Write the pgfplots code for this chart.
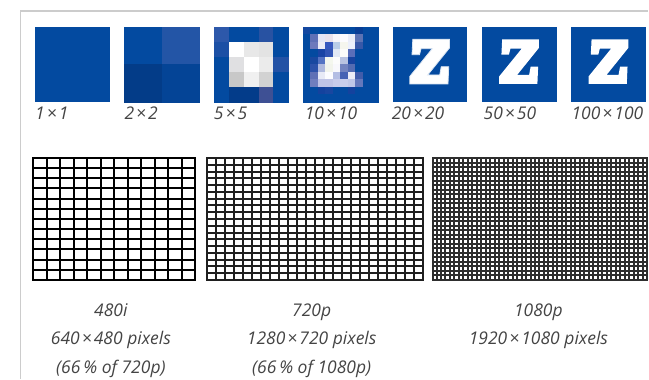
\documentclass[border=0pt]{standalone}
\usepackage{pgfplots}
\pgfplotsset{compat=1.18}
\usepackage{fontspec}
\setmainfont{Open Sans}
\definecolor{zb}{RGB}{3,74,160}
\definecolor{tg}{RGB}{68,68,68}
\definecolor{fr}{RGB}{204,204,204}
\newcommand{\lab}{\itshape\fontsize{17.5}{20}\selectfont}
\newcommand{\x}{\kern2pt×\kern2pt}
\begin{document}
\begin{tikzpicture}
\path (0,0) rectangle (649pt,379pt);
\begin{axis}[at={(0pt,0pt)}, anchor=south west, width=649pt, height=379pt, scale only axis,
  xmin=0, xmax=649, ymin=0, ymax=379, y dir=reverse, hide axis, clip=false]
% frame
\addplot[draw=fr, line width=1.5pt, mark=none] coordinates {(20.5,379) (20.5,11) (649,11)};
% 1x1
\addplot[fill=zb, draw=none, mark=none] coordinates {(35,27) (110,27) (110,102) (35,102)} -- cycle;
% 2x2
\addplot[matrix plot*, mesh/cols=2, mesh/color input=explicit, point meta=explicit symbolic] table[meta=c] {
x y c
143.25 45.75 rgb255=3,74,160
180.75 45.75 rgb255=35,85,166
143.25 83.25 rgb255=3,60,136
180.75 83.25 rgb255=4,68,150
};
% 5x5
\addplot[matrix plot*, mesh/cols=5, mesh/color input=explicit, point meta=explicit symbolic] table[meta=c] {
x y c
221.5 34.5 rgb255=45,88,170
236.5 34.5 rgb255=3,74,160
251.5 34.5 rgb255=3,74,160
266.5 34.5 rgb255=40,82,162
281.5 34.5 rgb255=3,74,160
221.5 49.5 rgb255=28,80,165
236.5 49.5 rgb255=255,255,255
251.5 49.5 rgb255=232,232,232
266.5 49.5 rgb255=227,227,227
281.5 49.5 rgb255=3,74,160
221.5 64.5 rgb255=3,74,160
236.5 64.5 rgb255=224,224,226
251.5 64.5 rgb255=255,255,255
266.5 64.5 rgb255=235,235,235
281.5 64.5 rgb255=35,82,165
221.5 79.5 rgb255=3,74,160
236.5 79.5 rgb255=200,200,200
251.5 79.5 rgb255=240,240,240
266.5 79.5 rgb255=210,210,210
281.5 79.5 rgb255=3,74,160
221.5 94.5 rgb255=3,74,160
236.5 94.5 rgb255=3,60,138
251.5 94.5 rgb255=3,60,138
266.5 94.5 rgb255=62,80,148
281.5 94.5 rgb255=3,74,160
};
% 10x10
\addplot[matrix plot*, mesh/cols=10, mesh/color input=explicit, point meta=explicit symbolic] table[meta=c] {
x y c
307.25 30.75 rgb255=20,72,160
314.75 30.75 rgb255=3,74,160
322.25 30.75 rgb255=3,74,160
329.75 30.75 rgb255=3,74,160
337.25 30.75 rgb255=3,74,160
344.75 30.75 rgb255=3,74,160
352.25 30.75 rgb255=3,74,160
359.75 30.75 rgb255=8,62,150
367.25 30.75 rgb255=3,74,160
374.75 30.75 rgb255=3,74,160
307.25 38.25 rgb255=3,74,160
314.75 38.25 rgb255=95,112,182
322.25 38.25 rgb255=228,230,245
329.75 38.25 rgb255=232,226,236
337.25 38.25 rgb255=246,246,250
344.75 38.25 rgb255=252,252,255
352.25 38.25 rgb255=235,238,248
359.75 38.25 rgb255=92,115,180
367.25 38.25 rgb255=3,74,160
374.75 38.25 rgb255=3,74,160
307.25 45.75 rgb255=3,74,160
314.75 45.75 rgb255=110,122,188
322.25 45.75 rgb255=236,236,246
329.75 45.75 rgb255=55,88,190
337.25 45.75 rgb255=185,205,232
344.75 45.75 rgb255=245,246,238
352.25 45.75 rgb255=236,240,252
359.75 45.75 rgb255=55,88,168
367.25 45.75 rgb255=3,74,160
374.75 45.75 rgb255=3,74,160
307.25 53.25 rgb255=3,74,160
314.75 53.25 rgb255=3,74,160
322.25 53.25 rgb255=25,68,165
329.75 53.25 rgb255=50,85,180
337.25 53.25 rgb255=225,232,244
344.75 53.25 rgb255=252,252,250
352.25 53.25 rgb255=90,110,185
359.75 53.25 rgb255=3,74,160
367.25 53.25 rgb255=3,74,160
374.75 53.25 rgb255=3,74,160
307.25 60.75 rgb255=3,74,160
314.75 60.75 rgb255=25,72,160
322.25 60.75 rgb255=85,115,195
329.75 60.75 rgb255=244,247,238
337.25 60.75 rgb255=252,252,252
344.75 60.75 rgb255=185,195,225
352.25 60.75 rgb255=25,68,160
359.75 60.75 rgb255=3,74,160
367.25 60.75 rgb255=3,74,160
374.75 60.75 rgb255=3,74,160
307.25 68.25 rgb255=3,74,160
314.75 68.25 rgb255=45,82,170
322.25 68.25 rgb255=175,185,222
329.75 68.25 rgb255=242,244,236
337.25 68.25 rgb255=248,248,252
344.75 68.25 rgb255=115,132,192
352.25 68.25 rgb255=85,108,178
359.75 68.25 rgb255=3,74,160
367.25 68.25 rgb255=3,74,160
374.75 68.25 rgb255=3,74,160
307.25 75.75 rgb255=3,74,160
314.75 75.75 rgb255=95,112,182
322.25 75.75 rgb255=232,234,246
329.75 75.75 rgb255=252,252,255
337.25 75.75 rgb255=180,190,228
344.75 75.75 rgb255=70,98,180
352.25 75.75 rgb255=236,236,246
359.75 75.75 rgb255=65,92,170
367.25 75.75 rgb255=3,74,160
374.75 75.75 rgb255=3,74,160
307.25 83.25 rgb255=3,74,160
314.75 83.25 rgb255=112,126,190
322.25 83.25 rgb255=192,196,230
329.75 83.25 rgb255=192,196,230
337.25 83.25 rgb255=200,204,235
344.75 83.25 rgb255=200,206,236
352.25 83.25 rgb255=192,200,232
359.75 83.25 rgb255=100,120,188
367.25 83.25 rgb255=3,74,160
374.75 83.25 rgb255=3,74,160
307.25 90.75 rgb255=3,74,160
314.75 90.75 rgb255=3,74,160
322.25 90.75 rgb255=20,66,158
329.75 90.75 rgb255=25,70,160
337.25 90.75 rgb255=3,74,160
344.75 90.75 rgb255=3,74,160
352.25 90.75 rgb255=20,66,158
359.75 90.75 rgb255=3,74,160
367.25 90.75 rgb255=3,74,160
374.75 90.75 rgb255=3,74,160
307.25 98.25 rgb255=3,74,160
314.75 98.25 rgb255=3,74,160
322.25 98.25 rgb255=3,74,160
329.75 98.25 rgb255=3,74,160
337.25 98.25 rgb255=3,74,160
344.75 98.25 rgb255=3,74,160
352.25 98.25 rgb255=3,74,160
359.75 98.25 rgb255=3,74,160
367.25 98.25 rgb255=3,74,160
374.75 98.25 rgb255=3,74,160
};
% 20x20, 50x50, 100x100 blue squares
\addplot[fill=zb, draw=none, mark=none] coordinates {(393,27) (468,27) (468,102) (393,102)} -- cycle;
\addplot[fill=zb, draw=none, mark=none] coordinates {(482.5,27) (557.5,27) (557.5,102) (482.5,102)} -- cycle;
\addplot[fill=zb, draw=none, mark=none] coordinates {(572,27) (647,27) (647,102) (572,102)} -- cycle;
% Z letters
\addplot[fill=white, draw=white!85!zb, line width=0.8pt, mark=none] coordinates {
(413.25,39.4) (450,39.4) (450,48) (428.25,75) (440.25,75) (441.75,66.75) (449.25,66.75)
(448.5,84) (410.25,84) (410.25,76.5) (432.75,48.75) (421.5,48.75) (420,54.75) (412.5,54.75)} -- cycle;
\addplot[fill=white, draw=none, mark=none] coordinates {
(502.75,39.4) (539.5,39.4) (539.5,48) (517.75,75) (529.75,75) (531.25,66.75) (538.75,66.75)
(538,84) (499.75,84) (499.75,76.5) (522.25,48.75) (511,48.75) (509.5,54.75) (502,54.75)} -- cycle;
\addplot[fill=white, draw=none, mark=none] coordinates {
(592.25,39.4) (629,39.4) (629,48) (607.25,75) (619.25,75) (620.75,66.75) (628.25,66.75)
(627.5,84) (589.25,84) (589.25,76.5) (611.75,48.75) (600.5,48.75) (599,54.75) (591.5,54.75)} -- cycle;
% labels
\node[anchor=base west, inner sep=0pt, font=\lab, text=tg] at (axis cs:35,120) {1\x1};
\node[anchor=base west, inner sep=0pt, font=\lab, text=tg] at (axis cs:124.5,120) {2\x2};
\node[anchor=base west, inner sep=0pt, font=\lab, text=tg] at (axis cs:214,120) {5\x5};
\node[anchor=base west, inner sep=0pt, font=\lab, text=tg] at (axis cs:305,120) {10\x10};
\node[anchor=base west, inner sep=0pt, font=\lab, text=tg] at (axis cs:392,120) {20\x20};
\node[anchor=base west, inner sep=0pt, font=\lab, text=tg] at (axis cs:484,120) {50\x50};
\node[anchor=base west, inner sep=0pt, font=\lab, text=tg] at (axis cs:572,120) {100\x100};
\node[anchor=base, inner sep=0pt, font=\lab, text=tg] at (axis cs:111,317) {480i};
\node[anchor=base, inner sep=0pt, font=\lab, text=tg] at (axis cs:111,345) {640\x480 pixels};
\node[anchor=base, inner sep=0pt, font=\lab, text=tg] at (axis cs:111,374) {(66\,\% of 720p)};
\node[anchor=base, inner sep=0pt, font=\lab, text=tg] at (axis cs:312,317) {720p};
\node[anchor=base, inner sep=0pt, font=\lab, text=tg] at (axis cs:312,345) {1280\x720 pixels};
\node[anchor=base, inner sep=0pt, font=\lab, text=tg] at (axis cs:312,374) {(66\,\% of 1080p)};
\node[anchor=base, inner sep=0pt, font=\lab, text=tg] at (axis cs:539,317) {1080p};
\node[anchor=base, inner sep=0pt, font=\lab, text=tg] at (axis cs:539,345) {1920\x1080 pixels};
\end{axis}
% 480i grid (pixel units)
\begin{axis}[at={(33pt,99pt)}, anchor=south west, width=162pt, height=122pt, scale only axis,
  xmin=0, xmax=162, ymin=0, ymax=122, hide axis, clip=false]
\addplot[ycomb, black, line width=2pt, line cap=rect, mark=none] coordinates {
(0,122) (14,122) (27,122) (41,122) (54,122) (68,122) (81,122) (95,122) (108,122) (122,122) (135,122) (149,122) (162,122)};
\addplot[xcomb, black, line width=2pt, line cap=rect, mark=none] coordinates {
(162,0) (162,10) (162,20) (162,31) (162,41) (162,51) (162,61) (162,71) (162,81) (162,92) (162,102) (162,112) (162,122)};
\end{axis}
% 720p grid (pixel units)
\begin{axis}[at={(207pt,99pt)}, anchor=south west, width=216pt, height=122pt, scale only axis,
  xmin=0, xmax=216, ymin=0, ymax=122, hide axis, clip=false]
\addplot[ycomb, black!88, line width=2pt, line cap=rect, mark=none] coordinates {
(0,122) (9,122) (18,122) (27,122) (36,122) (45,122) (54,122) (63,122) (72,122)
(81,122) (90,122) (99,122) (108,122) (117,122) (126,122) (135,122) (144,122)
(153,122) (162,122) (171,122) (180,122) (189,122) (198,122) (207,122) (216,122)};
\addplot[xcomb, black!88, line width=2pt, line cap=rect, mark=none] coordinates {
(216,0) (216,7) (216,14) (216,20) (216,27) (216,34) (216,41) (216,47) (216,54)
(216,61) (216,68) (216,75) (216,81) (216,88) (216,95) (216,102) (216,108)
(216,115) (216,122)};
\end{axis}
% 1080p grid (pixel units)
\begin{axis}[at={(433pt,99pt)}, anchor=south west, width=215pt, height=122pt, scale only axis,
  xmin=0, xmax=215, ymin=0, ymax=122, hide axis, clip=false]
\addplot[ycomb, black!82, line width=2pt, line cap=rect, mark=none] coordinates {
(0,122) (4,122) (9,122) (13,122) (18,122) (22,122) (27,122) (31,122) (36,122)
(40,122) (45,122) (49,122) (54,122) (58,122) (63,122) (67,122) (72,122) (76,122)
(81,122) (85,122) (90,122) (94,122) (99,122) (103,122) (107,122) (112,122)
(116,122) (121,122) (125,122) (130,122) (134,122) (139,122) (143,122) (148,122)
(152,122) (157,122) (161,122) (166,122) (170,122) (175,122) (179,122) (184,122)
(188,122) (193,122) (197,122) (202,122) (206,122) (211,122) (215,122)};
\addplot[xcomb, black!82, line width=2pt, line cap=rect, mark=none] coordinates {
(215,0) (215,5) (215,9) (215,14) (215,18) (215,23) (215,27) (215,32) (215,36)
(215,41) (215,45) (215,50) (215,54) (215,59) (215,63) (215,68) (215,72) (215,77)
(215,81) (215,86) (215,90) (215,95) (215,99) (215,104) (215,108) (215,113)
(215,117) (215,122)};
\end{axis}
\end{tikzpicture}
\end{document}
